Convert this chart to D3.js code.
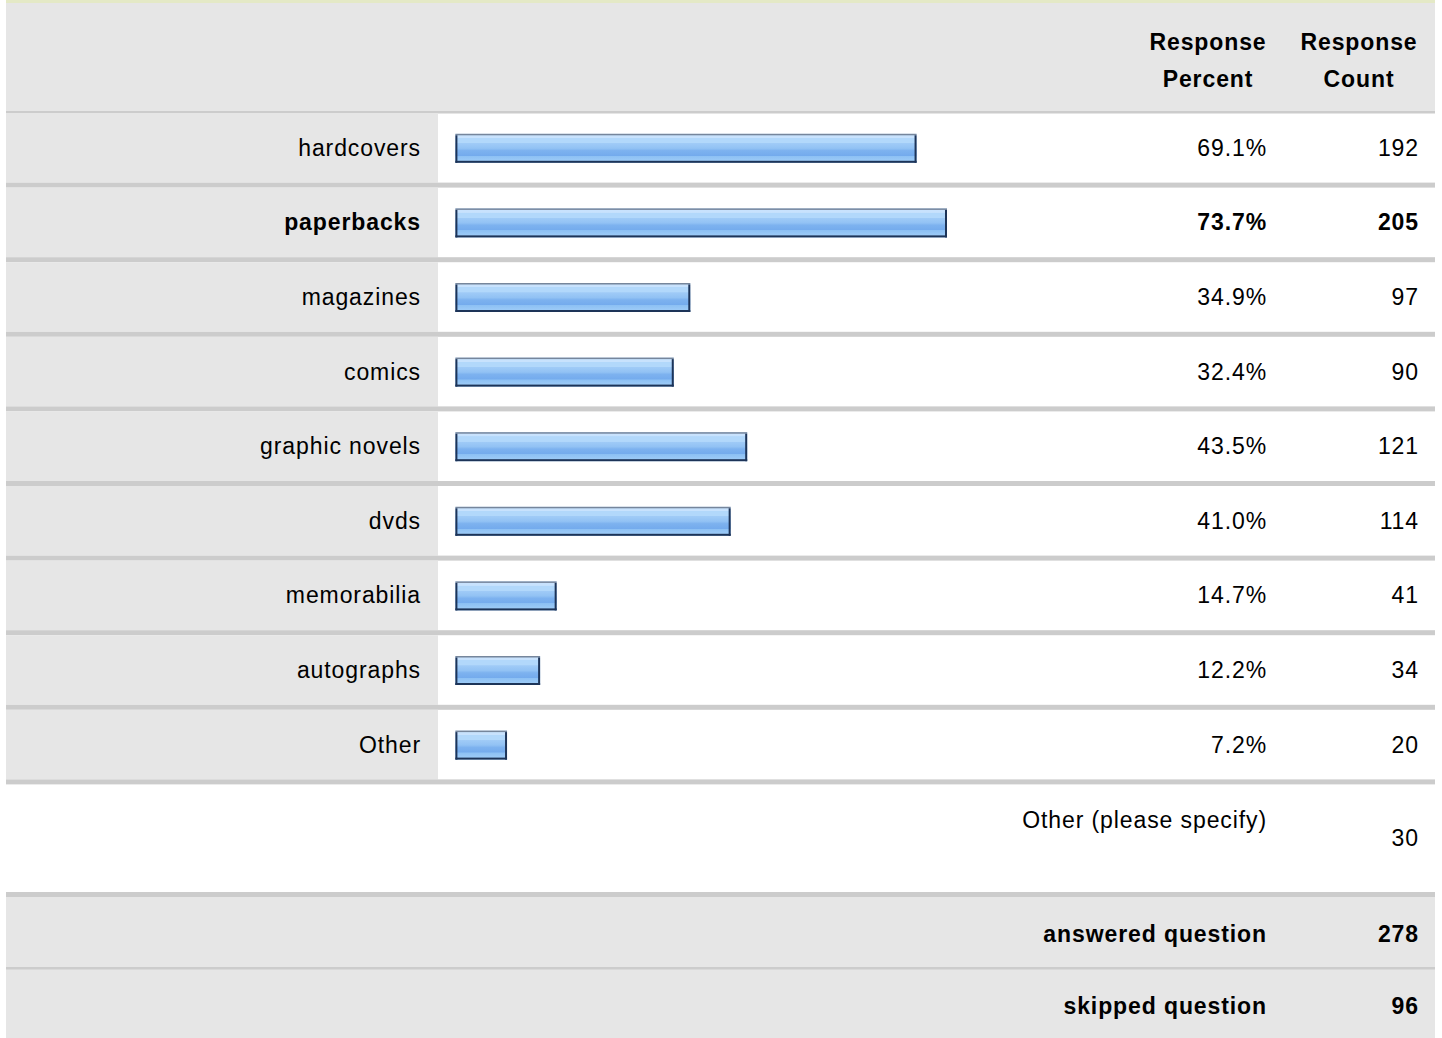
<!DOCTYPE html>
<html>
<head>
<meta charset="utf-8">
<script src="https://cdn.jsdelivr.net/npm/d3@7"></script>
<style>
  html, body { margin: 0; padding: 0; background: #ffffff; }
  svg { display: block; }
  svg text { font-family: Arial, "Liberation Sans", Helvetica, sans-serif; font-size: 23px; letter-spacing: 0.9px; fill: #000; }
</style>
</head>
<body>
<script>
// ---- data ----
const categories = ["hardcovers", "paperbacks", "magazines", "comics", "graphic novels", "dvds", "memorabilia", "autographs", "Other"];
const percents = [69.1, 73.7, 34.9, 32.4, 43.5, 41.0, 14.7, 12.2, 7.2];
const counts = [192, 205, 97, 90, 121, 114, 41, 34, 20];
const highlighted = ["paperbacks"];
const headerPercent = ["Response", "Percent"];
const headerCount = ["Response", "Count"];
const otherLabel = "Other (please specify)";
const otherCount = 30;
const summaryLabels = ["answered question", "skipped question"];
const summaryValues = [278, 96];

// ---- layout ----
const W = 1442, H = 1038;
const X0 = 6, X1 = 1435;
const labelCellRight = 438;
const labelRight = 421, pctRight = 1267, cntRight = 1419;
const sepColor = "#cccccc", grayCell = "#e6e6e6";
const FONT = 'Arial, "Liberation Sans", Helvetica, sans-serif';

const svg = d3.select("body").append("svg").attr("width", W).attr("height", H)
  .attr("font-family", FONT);

const defs = svg.append("defs");
const grad = defs.append("linearGradient").attr("id", "barGrad")
  .attr("x1", 0).attr("y1", 0).attr("x2", 0).attr("y2", 1);
[[0, "#c8e2fd"], [0.14, "#c8e2fd"], [0.15, "#b2d8fb"], [0.32, "#b2d8fb"], [0.33, "#a0cbf7"],
 [0.5, "#92c2f4"], [0.58, "#7db2ef"], [0.75, "#74abed"], [0.76, "#8cc0f4"], [1, "#a3cff8"]]
  .forEach(([o, c]) => grad.append("stop").attr("offset", o).attr("stop-color", c));

// top accent line
svg.append("rect").attr("x", X0).attr("y", 0).attr("width", X1 - X0).attr("height", 3).attr("fill", "#e4e9c6");

// header
svg.append("rect").attr("x", X0).attr("y", 3).attr("width", X1 - X0).attr("height", 108).attr("fill", grayCell);
svg.append("rect").attr("x", X0).attr("y", 111).attr("width", X1 - X0).attr("height", 2.5).attr("fill", sepColor);
const hdr = svg.append("g").style("font-weight", "bold").attr("text-anchor", "middle");
headerPercent.forEach((t, i) => hdr.append("text").attr("x", 1208).attr("y", 50 + i * 37).text(t));
headerCount.forEach((t, i) => hdr.append("text").attr("x", 1359).attr("y", 50 + i * 37).text(t));

// scales
const y = d3.scaleBand().domain(categories).range([113, 113 + categories.length * 74.6]).padding(0);
const x = d3.scaleLinear().domain([0, 100]).range([459.4, 1121]);
const sep = 5;

const rows = svg.append("g").selectAll("g").data(categories).join("g")
  .attr("transform", d => `translate(0,${y(d)})`);

rows.append("rect").attr("x", X0).attr("y", 0).attr("width", labelCellRight - X0)
  .attr("height", y.bandwidth() - sep).attr("fill", grayCell);
rows.append("rect").attr("x", X0).attr("y", y.bandwidth() - sep).attr("width", X1 - X0)
  .attr("height", sep).attr("fill", sepColor);

const cy = (y.bandwidth() - sep) / 2;

rows.each(function (d, i) {
  const g = d3.select(this);
  const bold = highlighted.includes(d) ? "bold" : "normal";
  const bx = x(0) - 4, bw = x(percents[i]) - bx;
  const by = cy - 14, bh = 29;
  g.append("rect").attr("x", bx).attr("y", by).attr("width", bw).attr("height", bh).attr("fill", "url(#barGrad)");
  g.append("rect").attr("x", bx).attr("y", by).attr("width", bw).attr("height", 1.5).attr("fill", "#76869c");
  g.append("rect").attr("x", bx).attr("y", by + 1.5).attr("width", 2).attr("height", bh - 1.5).attr("fill", "#1d3458");
  g.append("rect").attr("x", bx + bw - 2).attr("y", by + 1.5).attr("width", 2).attr("height", bh - 1.5).attr("fill", "#1d3458");
  g.append("rect").attr("x", bx).attr("y", by + bh - 2).attr("width", bw).attr("height", 2).attr("fill", "#1d3458");

  g.append("text").attr("x", labelRight).attr("y", cy + 8).attr("text-anchor", "end").style("font-weight", bold).text(d);
  g.append("text").attr("x", pctRight).attr("y", cy + 8).attr("text-anchor", "end").style("font-weight", bold)
    .text(percents[i].toFixed(1) + "%");
  g.append("text").attr("x", cntRight).attr("y", cy + 8).attr("text-anchor", "end").style("font-weight", bold)
    .text(counts[i]);
});

// other (please specify)
svg.append("text").attr("x", pctRight).attr("y", 828).attr("text-anchor", "end").text(otherLabel);
svg.append("text").attr("x", cntRight).attr("y", 846).attr("text-anchor", "end").text(otherCount);
svg.append("rect").attr("x", X0).attr("y", 892).attr("width", X1 - X0).attr("height", 5).attr("fill", sepColor);

// summary rows
const sTops = [897, 969], sHeights = [70, 69];
summaryLabels.forEach((lab, i) => {
  svg.append("rect").attr("x", X0).attr("y", sTops[i]).attr("width", X1 - X0).attr("height", sHeights[i]).attr("fill", grayCell);
  const c = sTops[i] + 37;
  svg.append("text").attr("x", pctRight).attr("y", c + 8).attr("text-anchor", "end").style("font-weight", "bold").text(lab);
  svg.append("text").attr("x", cntRight).attr("y", c + 8).attr("text-anchor", "end").style("font-weight", "bold").text(summaryValues[i]);
});
svg.append("rect").attr("x", X0).attr("y", 967).attr("width", X1 - X0).attr("height", 2.5).attr("fill", sepColor);
</script>
</body>
</html>
